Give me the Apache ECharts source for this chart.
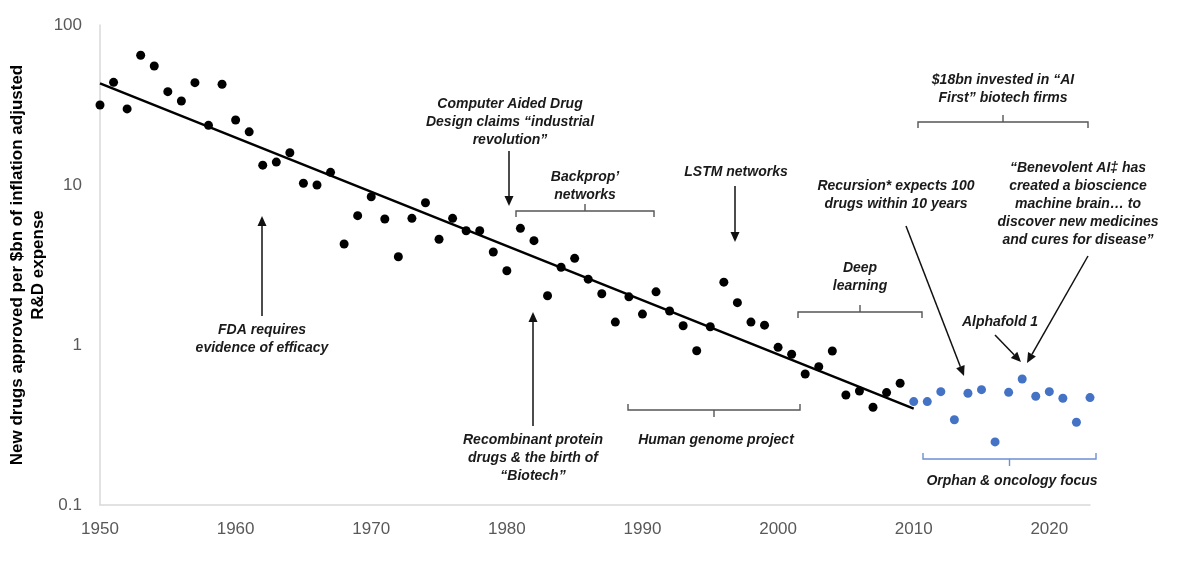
<!DOCTYPE html>
<html>
<head>
<meta charset="utf-8">
<script src="https://cdn.jsdelivr.net/npm/echarts@6/dist/echarts.min.js"></script>
<style>
html,body{margin:0;padding:0;background:#fff;}
#c{width:1200px;height:570px;}
</style>
</head>
<body>
<div id="c"></div>
<script>
// ---- data ----
const pharmaYears = [1950,1951,1952,1953,1954,1955,1956,1957,1958,1959,
  1960,1961,1962,1963,1964,1965,1966,1967,1968,1969,
  1970,1971,1972,1973,1974,1975,1976,1977,1978,1979,
  1980,1981,1982,1983,1984,1985,1986,1987,1988,1989,
  1990,1991,1992,1993,1994,1995,1996,1997,1998,1999,
  2000,2001,2002,2003,2004,2005,2006,2007,2008,2009];
const pharmaValues = [31.6,43.8,29.9,64.7,55.4,38.3,33.5,43.6,23.6,42.6,
  25.5,21.5,13.3,13.9,15.9,10.25,10.0,12.0,4.28,6.43,
  8.45,6.13,3.56,6.19,7.74,4.58,6.19,5.18,5.18,3.81,
  2.91,5.36,4.49,2.03,3.06,3.48,2.58,2.09,1.39,2.00,
  1.56,2.15,1.63,1.32,0.92,1.30,2.47,1.84,1.39,1.33,
  0.967,0.875,0.659,0.732,0.917,0.487,0.516,0.408,0.504,0.577];
const aiYears = [2010,2011,2012,2013,2014,2015,2016,2017,2018,2019,2020,2021,2022,2023];
const aiValues = [0.443,0.443,0.511,0.341,0.499,0.526,0.248,0.506,0.613,0.478,0.511,0.465,0.329,0.469];
const trendYears = [1950, 2010];
const trendValues = [43.2, 0.40];
const xTicks = [1950,1960,1970,1980,1990,2000,2010,2020];
const yTicks = [0.1,1,10,100];
const yTitle = 'New drugs approved per $bn of inflation adjusted\nR&D expense';

const zip = (a,b) => a.map((v,i)=>[v,b[i]]);

// ---- annotation helpers (pixel layout) ----
const TXT = '#1a1a1a';
const FONT = 'italic bold 14px "Liberation Sans", Arial, sans-serif';
function label(x, y, text){
  return {type:'text', x:x, y:y, z:10, style:{text:text, fill:TXT, font:FONT,
    textAlign:'center', textVerticalAlign:'middle', align:'center', verticalAlign:'middle', lineHeight:18}};
}
function arrow(x1,y1,x2,y2,color){
  color = color || '#111';
  const dx = x2-x1, dy = y2-y1, L = Math.sqrt(dx*dx+dy*dy);
  const ux = dx/L, uy = dy/L, hl = 10, hw = 4.5;
  const bx = x2-ux*hl, by = y2-uy*hl;
  return [
    {type:'line', z:10, shape:{x1:x1,y1:y1,x2:bx,y2:by}, style:{stroke:color, lineWidth:1.5}},
    {type:'polygon', z:10, shape:{points:[[x2,y2],[bx-uy*hw,by+ux*hw],[bx+uy*hw,by-ux*hw]]}, style:{fill:color}}
  ];
}
// dir = +1: ends point down, centre tick up ; dir = -1: ends point up, centre tick down
function bracket(xl, xr, y, dir, color){
  color = color || '#555';
  const e = 6*dir, t = 7*dir, xc = (xl+xr)/2;
  return [
    {type:'polyline', z:10, shape:{points:[[xl,y+e],[xl,y],[xr,y],[xr,y+e]]}, style:{stroke:color, lineWidth:1.4, fill:null}},
    {type:'line', z:10, shape:{x1:xc,y1:y,x2:xc,y2:y-t}, style:{stroke:color, lineWidth:1.4}}
  ];
}

const graphics = [].concat(
  [{type:'text', x:28, y:265, rotation:Math.PI/2, style:{text:yTitle, fill:'#000',
    font:'bold 17px "Liberation Sans", Arial, sans-serif', textAlign:'center', textVerticalAlign:'middle',
    align:'center', verticalAlign:'middle', lineHeight:21}}],
  // FDA
  [label(262, 339, 'FDA requires\nevidence of efficacy')], arrow(262, 316, 262, 216),
  // Computer Aided Drug Design
  [label(510, 122, 'Computer Aided Drug\nDesign claims “industrial\nrevolution”')], arrow(509, 151, 509, 206),
  // Backprop
  [label(585, 186, 'Backprop’\nnetworks')], bracket(516, 654, 211, 1),
  // LSTM
  [label(736, 172, 'LSTM networks')], arrow(735, 186, 735, 242),
  // Recombinant
  [label(533, 458, 'Recombinant protein\ndrugs & the birth of\n“Biotech”')], arrow(533, 426, 533, 312),
  // Human genome
  [label(716, 440, 'Human genome project')], bracket(628, 800, 410, -1),
  // Deep learning
  [label(860, 277, 'Deep\nlearning')], bracket(798, 922, 312, 1),
  // $18bn
  [label(1003, 89, '$18bn invested in “AI\nFirst” biotech firms')], bracket(918, 1088, 122, 1),
  // Recursion
  [label(896, 195, 'Recursion* expects 100\ndrugs within 10 years')], arrow(906, 226, 964, 376),
  // Benevolent
  [label(1078, 204, '“Benevolent AI‡ has\ncreated a bioscience\nmachine brain… to\ndiscover new medicines\nand cures for disease”')],
  arrow(1088, 256, 1027, 363),
  // Alphafold
  [label(1000, 322, 'Alphafold 1')], arrow(995, 335, 1021, 362),
  // Orphan
  [label(1012, 481, 'Orphan & oncology focus')], bracket(923, 1096, 459, -1, '#6d8fd3')
);

const chart = echarts.init(document.getElementById('c'), null, {renderer:'canvas'});
chart.setOption({
  animation:false,
  backgroundColor:'#fff',
  grid:{left:100, right:110, top:25, bottom:65},
  xAxis:{type:'value', min:1950, max:2023, interval:10,
    axisLine:{show:true, onZero:false, lineStyle:{color:'#d9d9d9', width:1.5}},
    axisTick:{show:false}, splitLine:{show:false},
    axisLabel:{margin:16, color:'#595959', fontSize:17, fontFamily:'"Liberation Sans Narrow", "Liberation Sans", Arial, sans-serif',
      formatter:v => xTicks.indexOf(v) >= 0 ? String(v) : ''}},
  yAxis:{type:'log', logBase:10, min:0.1, max:100,
    axisLine:{show:true, lineStyle:{color:'#d9d9d9', width:1.5}},
    axisTick:{show:false}, splitLine:{show:false},
    axisLabel:{margin:18, color:'#595959', fontSize:17, fontFamily:'"Liberation Sans Narrow", "Liberation Sans", Arial, sans-serif',
      formatter:v => { const t = yTicks.find(k => Math.abs(k - v) < 1e-9); return t === undefined ? '' : String(t); }}},
  series:[
    {type:'line', data:zip(trendYears, trendValues), symbol:'none', lineStyle:{color:'#000', width:2.5}, z:3},
    {type:'scatter', data:zip(pharmaYears, pharmaValues), symbolSize:9, itemStyle:{color:'#000', opacity:1}, z:4},
    {type:'scatter', data:zip(aiYears, aiValues), symbolSize:9, itemStyle:{color:'#4472C4', opacity:1}, z:4}
  ],
  graphic:graphics
});
</script>
</body>
</html>
